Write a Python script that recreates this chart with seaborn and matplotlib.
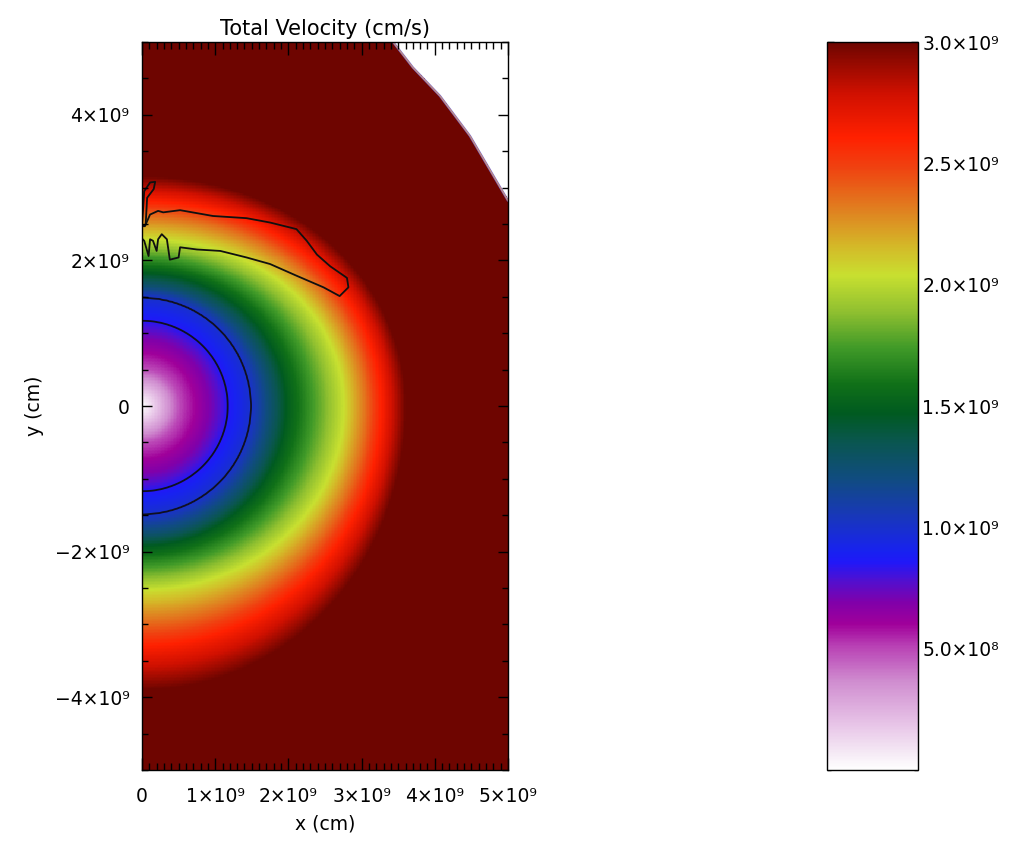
import numpy as np
import pandas as pd
import matplotlib
matplotlib.use("Agg")
import matplotlib.pyplot as plt
import seaborn as sns
from matplotlib.colors import LinearSegmentedColormap
from matplotlib.ticker import FixedLocator

sns.set_style("ticks")
plt.rcParams['font.family'] = ['DejaVu Sans']
plt.rcParams['text.color'] = 'black'
plt.rcParams['axes.labelcolor'] = 'black'
plt.rcParams['xtick.color'] = 'black'
plt.rcParams['ytick.color'] = 'black'

# ---------------- data (lengths and velocities in units of 1e9) ----------------
UNIT = 1e9
x_range = [0.0, 5.0]
y_range = [-5.0, 5.0]

# velocity levels and the radius at which each level is reached, per direction
v_levels = [0.0, 0.5, 0.7, 0.85, 1.0, 1.25, 1.5, 2.05, 2.35, 2.65, 3.0]
r_right  = [0.0, 0.52, 0.93, 1.17, 1.49, 1.75, 2.0, 2.77, 3.05, 3.3, 3.6]
r_up     = [0.0, 0.52, 0.93, 1.17, 1.49, 1.65, 1.85, 2.3, 2.6, 2.85, 3.15]
r_down   = [0.0, 0.52, 0.93, 1.17, 1.49, 1.75, 1.95, 2.54, 2.95, 3.35, 3.9]

contour_levels = [0.85, 1.0]

# outer domain boundary (upper right corner is empty)
boundary_x = [3.43, 3.7, 4.07, 4.48, 5.0]
boundary_y = [5.0, 4.65, 4.26, 3.71, 2.82]

# second contour (feature above the core)
feature_x = [0.0, 0.04, 0.11, 0.22, 0.29, 0.52, 0.97, 1.43, 1.75, 2.11, 2.25, 2.39,
             2.57, 2.80, 2.82, 2.70, 2.48, 2.11, 1.75, 1.43, 1.07, 0.75, 0.52, 0.50,
             0.38, 0.34, 0.27, 0.22, 0.20, 0.15, 0.11, 0.09, 0.03, 0.0]
feature_y = [2.47, 2.47, 2.63, 2.68, 2.66, 2.69, 2.61, 2.58, 2.52, 2.43, 2.27, 2.08,
             1.92, 1.76, 1.63, 1.51, 1.63, 1.79, 1.95, 2.04, 2.13, 2.15, 2.18, 2.04,
             2.01, 2.29, 2.36, 2.29, 2.13, 2.27, 2.29, 2.06, 2.27, 2.30]
sliver_x = [0.0, 0.03, 0.11, 0.18, 0.16, 0.07, 0.05, 0.0]
sliver_y = [2.47, 2.95, 3.07, 3.08, 2.98, 2.86, 2.49, 2.47]

# colour table
cmap_pos = [0.0, 0.02, 0.06, 0.12, 0.17, 0.20, 0.23, 0.26, 0.285, 0.30, 0.35, 0.40,
            0.45, 0.49, 0.53, 0.58, 0.63, 0.68, 0.72, 0.77, 0.83, 0.87, 0.93, 1.0]
cmap_colors = ['#ffffff', '#f6ecf6', '#e8c6e8', '#d08ed0', '#b840b4', '#a0009a',
               '#8000aa', '#5010d0', '#2018f8', '#1822f0', '#1838b8', '#104c80',
               '#0a5650', '#005a20', '#107018', '#409a28', '#90c030', '#c8e030',
               '#d4b828', '#e08020', '#f04010', '#ff2000', '#d01000', '#6e0500']

cbar_ticks = [0.5, 1.0, 1.5, 2.0, 2.5, 3.0]
cbar_labels = ['5.0×10⁸', '1.0×10⁹', '1.5×10⁹', '2.0×10⁹', '2.5×10⁹', '3.0×10⁹']
x_ticks = [0, 1, 2, 3, 4, 5]
x_labels = ['0', '1×10⁹', '2×10⁹', '3×10⁹', '4×10⁹', '5×10⁹']
y_ticks = [-4, -2, 0, 2, 4]
y_labels = ['−4×10⁹', '−2×10⁹', '0', '2×10⁹', '4×10⁹']

title = 'Total Velocity (cm/s)'
xlabel = 'x (cm)'
ylabel = 'y (cm)'

# ---------------- build grid ----------------
nx, ny = 250, 500
dx = (x_range[1] - x_range[0]) / nx
dy = (y_range[1] - y_range[0]) / ny
xc = x_range[0] + (np.arange(nx) + 0.5) * dx
yc = y_range[1] - (np.arange(ny) + 0.5) * dy      # top row first
X, Y = np.meshgrid(xc, yc)
r = np.hypot(X, Y)
phi = np.arctan2(Y, X)
c2, s2 = np.cos(phi) ** 2, np.sin(phi) ** 2
upper = Y >= 0
R = np.array([a * c2 + np.where(upper, bu, bd) * s2
              for a, bu, bd in zip(r_right, r_up, r_down)])
V = np.full(X.shape, v_levels[-1])
for k in range(len(v_levels) - 1):
    lo, hi = R[k], R[k + 1]
    m = (r >= lo) & (r < hi)
    t = (r - lo) / np.maximum(hi - lo, 1e-9)
    V[m] = (v_levels[k] + t * (v_levels[k + 1] - v_levels[k]))[m]

mask = (X >= boundary_x[0]) & (Y > np.interp(X, boundary_x, boundary_y))
df = pd.DataFrame(V * UNIT)

cmap = LinearSegmentedColormap.from_list('idl', list(zip(cmap_pos, cmap_colors)), N=512)

def ix(x):
    return (np.asarray(x) - x_range[0]) / dx

def iy(y):
    return (y_range[1] - np.asarray(y)) / dy

# ---------------- figure ----------------
fig = plt.figure(figsize=(10.16, 8.42), dpi=100)
ax = fig.add_axes([142 / 1016, 72 / 842, 366 / 1016, 728 / 842])
cax = fig.add_axes([827 / 1016, 72 / 842, 91 / 1016, 728 / 842])

sns.heatmap(df, ax=ax, cmap=cmap, vmin=0, vmax=3.0 * UNIT, mask=mask,
            cbar_ax=cax, xticklabels=False, yticklabels=False, rasterized=True)
ax.set_facecolor('white')
ax.set_axisbelow(False)
ax.set_xlim(0, nx)
ax.set_ylim(ny, 0)

# contours
ax.contour(np.arange(nx) + 0.5, np.arange(ny) + 0.5, V, levels=contour_levels,
           colors='#101020', linewidths=1.3)
ax.plot(ix(feature_x), iy(feature_y), color='#101010', lw=1.3)
ax.plot(ix(sliver_x), iy(sliver_y), color='#101010', lw=1.3)
ax.plot(ix(boundary_x), iy(boundary_y), color='#7a66c8', lw=1.6)
ax.plot(ix(boundary_x), iy(boundary_y), color='#e0a060', lw=0.6)

# axes styling
for sp in ax.spines.values():
    sp.set_visible(True)
    sp.set_color('black')
    sp.set_linewidth(1.0)
    sp.set_zorder(5)
ax.set_xticks(ix(x_ticks))
ax.set_xticklabels(x_labels)
ax.set_yticks(iy(y_ticks))
ax.set_yticklabels(y_labels, rotation=0)
ax.xaxis.set_minor_locator(FixedLocator(ix(np.arange(0, 50.5) / 10)))
ax.yaxis.set_minor_locator(FixedLocator(iy(np.arange(-10, 10.5) / 2)))
ax.tick_params(which='both', direction='in', top=True, right=True, color='black')
ax.tick_params(axis='x', which='major', length=9, width=1, labelsize=13.5, pad=12)
ax.tick_params(axis='x', which='minor', length=5, width=1)
ax.tick_params(axis='y', which='major', length=7, width=1, labelsize=13.5, pad=9)
ax.tick_params(axis='y', which='minor', length=4, width=1)
ax.set_title(title, fontsize=15, pad=5)
ax.set_xlabel(xlabel, fontsize=13.5, labelpad=6)
ax.set_ylabel(ylabel, fontsize=13.5, labelpad=8)

# colorbar styling
cb = ax.collections[0].colorbar
cb.outline.set_linewidth(1.0)
cb.outline.set_edgecolor('black')
cb.set_ticks([t * UNIT for t in cbar_ticks])
cb.set_ticklabels(cbar_labels)
cax.yaxis.set_minor_locator(FixedLocator(np.arange(0, 31) * 0.1 * UNIT))
cax.tick_params(which='both', direction='in', left=True, right=True, color='black')
cax.tick_params(which='major', length=5, width=1, labelsize=13.5, pad=3)
cax.tick_params(which='minor', length=3, width=1)

fig.savefig('out.png', dpi=100, facecolor='white')
